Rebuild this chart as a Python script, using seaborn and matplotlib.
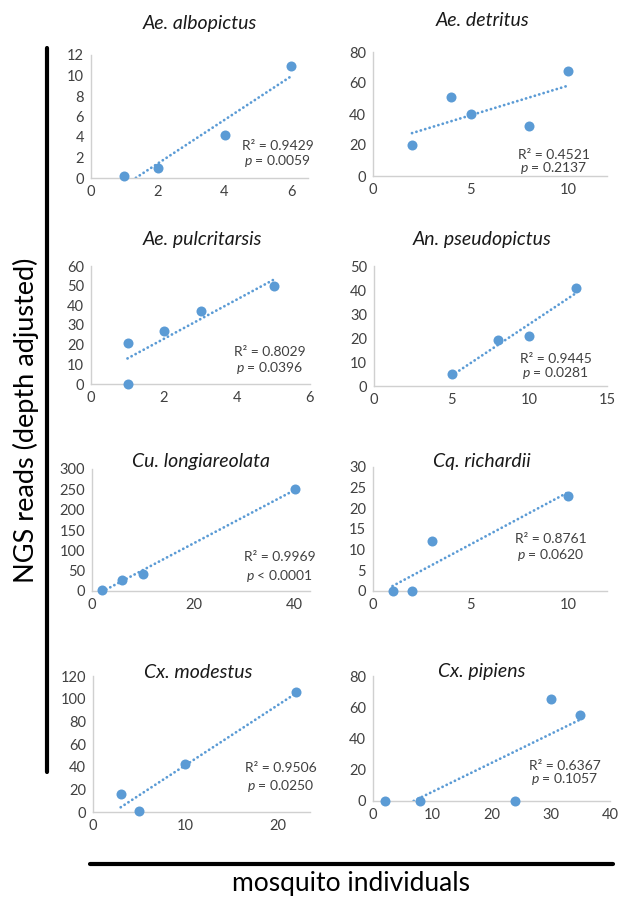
import matplotlib
matplotlib.use('Agg')
import matplotlib.pyplot as plt
import seaborn as sns
import pandas as pd

sns.set_theme(style='white')
plt.rcParams['font.family'] = ['Lato', 'DejaVu Sans']
plt.rcParams['mathtext.fontset'] = 'custom'
plt.rcParams['mathtext.it'] = 'Lato:italic'
plt.rcParams['mathtext.rm'] = 'Lato'

# species shown in each panel (row by row)
species = ['Ae. albopictus', 'Ae. detritus', 'Ae. pulcritarsis', 'An. pseudopictus',
           'Cu. longiareolata', 'Cq. richardii', 'Cx. modestus', 'Cx. pipiens']

# mosquito individuals vs NGS reads (depth adjusted)
x_albopictus = [1, 2, 4, 6]
y_albopictus = [0.2, 1.0, 4.2, 10.9]
x_detritus = [2, 4, 5, 8, 10]
y_detritus = [20, 51, 40, 32, 68]
x_pulcritarsis = [1, 1, 2, 3, 5]
y_pulcritarsis = [21, 0, 27, 37, 50]
x_pseudopictus = [5, 8, 10, 13]
y_pseudopictus = [5, 19, 21, 41]
x_longiareolata = [2, 6, 10, 40]
y_longiareolata = [3, 28, 42, 250]
x_richardii = [1, 2, 3, 10]
y_richardii = [0, 0, 12, 23]
x_modestus = [3, 5, 10, 22]
y_modestus = [16, 1, 42, 106]
x_pipiens = [2, 8, 24, 30, 35]
y_pipiens = [0, 0, 0, 65, 55]

r2_labels = ['0.9429', '0.4521', '0.8029', '0.9445', '0.9969', '0.8761', '0.9506', '0.6367']
p_labels = ['= 0.0059', '= 0.2137', '= 0.0396', '= 0.0281', '< 0.0001', '= 0.0620', '= 0.0250', '= 0.1057']

xticks = [[0, 2, 4, 6], [0, 5, 10], [0, 2, 4, 6], [0, 5, 10, 15],
          [0, 20, 40], [0, 5, 10], [0, 10, 20], [0, 10, 20, 30, 40]]
yticks = [list(range(0, 13, 2)), list(range(0, 81, 20)), list(range(0, 61, 10)),
          list(range(0, 51, 10)), list(range(0, 301, 50)), list(range(0, 31, 5)),
          list(range(0, 121, 20)), list(range(0, 81, 20))]

xs = [x_albopictus, x_detritus, x_pulcritarsis, x_pseudopictus,
      x_longiareolata, x_richardii, x_modestus, x_pipiens]
ys = [y_albopictus, y_detritus, y_pulcritarsis, y_pseudopictus,
      y_longiareolata, y_richardii, y_modestus, y_pipiens]

W, H = 621, 898
fig = plt.figure(figsize=(W / 100, H / 100), dpi=100)

def fx(px):
    return px / W

def fy(py):
    return 1 - py / H

# axes boxes in pixels: left, top, right, bottom
boxes = [(91, 55, 308, 178), (373, 52, 607, 176),
         (91, 266, 310, 384), (374, 266, 607, 386),
         (92, 469, 310, 591), (373, 467, 607, 591),
         (93, 676, 310, 812), (373, 676, 610, 801)]
xmax = [6.5, 12, 6, 15, 43, 12, 23.5, 40]
title_pos = [(200, 23), (482, 20), (202, 240), (482, 240),
             (201, 462), (482, 462), (198, 672), (482, 672)]
# annotation centre x, R² line y, p line y
note_pos = [(278, 146, 161), (554, 155, 168), (270, 352, 368), (556, 359, 373),
            (280, 557, 576), (551, 539, 555), (281, 768, 786), (565, 766, 779)]

blue = '#5b9bd5'
for i in range(8):
    l, t, r, b = boxes[i]
    ax = fig.add_axes([fx(l), fy(b), fx(r) - fx(l), (b - t) / H])
    df = pd.DataFrame({'n': xs[i], 'reads': ys[i]})
    sns.regplot(data=df, x='n', y='reads', ax=ax, ci=None,
                scatter_kws={'s': 52, 'color': blue, 'alpha': 1, 'linewidths': 0, 'zorder': 3},
                line_kws={'color': blue, 'linestyle': (0, (0.05, 1.6)), 'linewidth': 2.0,
                          'dash_capstyle': 'round'})
    ax.set_xlim(0, xmax[i])
    ax.set_ylim(0, yticks[i][-1])
    ax.set_xticks(xticks[i])
    ax.set_yticks(yticks[i])
    ax.set_xlabel('')
    ax.set_ylabel('')
    for s in ['top', 'right']:
        ax.spines[s].set_visible(False)
    for s in ['left', 'bottom']:
        ax.spines[s].set_color('#d0d0d0')
        ax.spines[s].set_linewidth(1)
    ax.tick_params(length=0, labelsize=10.5, colors='#404040', pad=5)
    for pt in ax.collections:
        pt.set_clip_on(False)

    tx, ty = title_pos[i]
    fig.text(fx(tx), fy(ty), species[i], ha='center', va='center',
             fontsize=14, style='italic', color='#1a1a1a')
    nx, ry, py = note_pos[i]
    fig.text(fx(nx), fy(ry), 'R² = ' + r2_labels[i], ha='center', va='center',
             fontsize=10, color='#404040')
    fig.text(fx(nx), fy(py), '$\\it{p}$ ' + p_labels[i], ha='center', va='center',
             fontsize=10, color='#404040')

# outer frame lines and shared labels
fig.add_artist(plt.Line2D([fx(47), fx(47)], [fy(48), fy(772)], color='black', linewidth=3))
fig.add_artist(plt.Line2D([fx(90), fx(613)], [fy(864), fy(864)], color='black', linewidth=3))
fig.text(fx(26), fy(420), 'NGS reads (depth adjusted)', rotation=90, ha='center', va='center',
         fontsize=19.5, color='black')
fig.text(fx(351), fy(884), 'mosquito individuals', ha='center', va='center',
         fontsize=19, color='black')

plt.savefig('out.png', dpi=100)
plt.close()
